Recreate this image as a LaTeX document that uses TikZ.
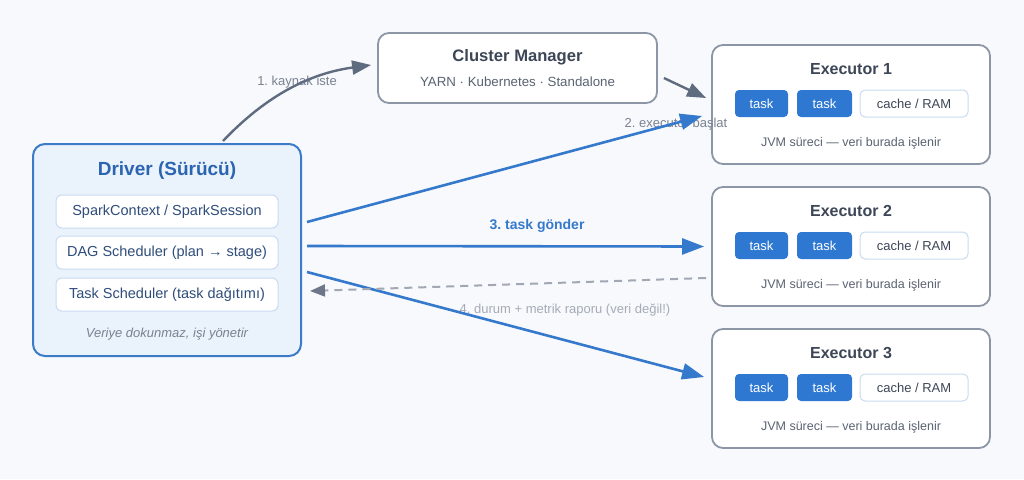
\documentclass[tikz,border=0pt]{standalone}
\usepackage{fontspec}
\setmainfont{Liberation Sans}
\usetikzlibrary{arrows.meta}
\definecolor{bgc}{HTML}{F7F9FC}
\definecolor{drvfill}{HTML}{EAF2FC}
\definecolor{drvline}{HTML}{3B7BC8}
\definecolor{drvtitle}{HTML}{2B64B0}
\definecolor{innerline}{HTML}{C9DBF0}
\definecolor{innertext}{HTML}{2E4D7A}
\definecolor{grayline}{HTML}{8C96A6}
\definecolor{darktext}{HTML}{3D4656}
\definecolor{midtext}{HTML}{5A6372}
\definecolor{taskblue}{HTML}{2F78D2}
\definecolor{arrowblue}{HTML}{3579CC}
\definecolor{arrowgray}{HTML}{5F6B7E}
\definecolor{dashgray}{HTML}{A0A8B4}
\definecolor{dashtip}{HTML}{6E7789}
\definecolor{lbltext}{HTML}{7A8291}
\definecolor{lbllight}{HTML}{A5ACB8}
\tikzset{
  drvbox/.style={draw=drvline,line width=2pt,fill=drvfill,rounded corners=12pt,minimum width=268pt,minimum height=212pt,inner sep=0pt},
  innerbox/.style={draw=innerline,line width=1pt,fill=white,rounded corners=6pt,minimum width=222pt,minimum height=33pt,inner sep=0pt,font=\fontsize{14.5}{16}\selectfont,text=innertext},
  graybox/.style={draw=grayline,line width=1.8pt,fill=white,rounded corners=11pt,inner sep=0pt},
  taskbox/.style={fill=taskblue,rounded corners=4pt,minimum height=27pt,inner sep=0pt,text=white,font=\fontsize{13}{15}\selectfont},
  cachebox/.style={draw=innerline,line width=1pt,fill=white,rounded corners=5pt,minimum width=108pt,minimum height=27pt,inner sep=0pt,text=darktext,font=\fontsize{13}{15}\selectfont},
  titletext/.style={font=\bfseries\fontsize{16}{18}\selectfont,text=darktext,inner sep=0pt},
  subtext/.style={font=\fontsize{13.3}{15}\selectfont,text=midtext,inner sep=0pt},
  lbl/.style={font=\fontsize{13}{15}\selectfont,text=lbltext,inner sep=0pt},
  bluearrow/.style={draw=arrowblue,line width=2.6pt,-{Triangle[length=22pt,width=16pt]}},
  grayarrow/.style={draw=arrowgray,line width=2.4pt,-{Triangle[length=19pt,width=14pt]}},
  dasharrow/.style={draw=dashgray,line width=2pt,dash pattern=on 8pt off 6pt,-{Triangle[length=15pt,width=12pt,color=dashtip]}},
}
\begin{document}
\frenchspacing
\begin{tikzpicture}[x=1pt,y=-1pt]
\useasboundingbox (0,0) rectangle (1024,479);
\fill[bgc] (0,0) rectangle (1024,479);

% Driver
\node[drvbox] (driver) at (167,250) {};
\node[font=\bfseries\fontsize{19}{21}\selectfont,text=drvtitle,inner sep=0pt] (drvtitle) at (167,171) {Driver (Sürücü)};
\node[innerbox] (sc) at (167,211.5) {SparkContext / SparkSession};
\node[innerbox] (dag) at (167,252.5) {DAG Scheduler (plan → stage)};
\node[innerbox] (ts) at (167,294.5) {Task Scheduler (task dağıtımı)};
\node[font=\itshape\fontsize{13}{15}\selectfont,text=lbltext,inner sep=0pt] (drvnote) at (167,334) {Veriye dokunmaz, işi yönetir};

% Cluster Manager
\node[graybox,minimum width=279pt,minimum height=70pt] (cm) at (517.5,68) {};
\node[titletext,font=\bfseries\fontsize{16.6}{18}\selectfont] (cmtitle) at (517.5,57) {Cluster Manager};
\node[subtext] (cmsub) at (517.5,82) {YARN · Kubernetes · Standalone};

% Executors
\foreach \i/\t in {1/45,2/187,3/329}{
  \node[graybox,minimum width=278pt,minimum height=119pt] (ex\i) at (851,\t+59.5) {};
  \node[titletext] (ex\i title) at (851,\t+24) {Executor \i};
  \node[taskbox,minimum width=53pt] (ex\i t1) at (761.5,\t+58.5) {task};
  \node[taskbox,minimum width=55pt] (ex\i t2) at (824.5,\t+58.5) {task};
  \node[cachebox] (ex\i c) at (914,\t+58.5) {cache / RAM};
  \node[font=\fontsize{12.5}{14}\selectfont,text=midtext,inner sep=0pt] (ex\i jvm) at (851,\t+98) {JVM süreci — veri burada işlenir};
}

% Labels (under arrows)
\node[lbl] (l1) at (297,82) {1. kaynak iste};
\node[lbl] (l2) at (676,124) {2. executor başlat};
\node[font=\bfseries\fontsize{14}{16}\selectfont,text=arrowblue,inner sep=0pt] (l3) at (537,226) {3. task gönder};
\node[lbl,text=lbllight] (l4) at (565,310) {4. durum + metrik raporu (veri değil!)};

% Arrows
\draw[grayarrow] ([xshift=56pt,yshift=2pt]driver.north) .. controls (262,100) and (305,74) .. ([xshift=-6pt,yshift=3pt]cm.west);
\draw[grayarrow] ([xshift=6pt,yshift=-10pt]cm.east) -- ([xshift=-5pt,yshift=6.5pt]ex1.west);
\draw[bluearrow] ([xshift=5pt,yshift=28pt]driver.east) -- ([xshift=-9pt,yshift=-11.5pt]ex1.west);
\draw[bluearrow] ([xshift=5pt,yshift=4pt]driver.east) -- ([xshift=-7pt,yshift=0pt]ex2.west);
\draw[bluearrow] ([xshift=5pt,yshift=-22pt]driver.east) -- ([xshift=-7pt,yshift=11.5pt]ex3.west);
\draw[dasharrow] ([xshift=-5pt,yshift=-31.5pt]ex2.west) -- ([xshift=8pt,yshift=-41pt]driver.east);
\end{tikzpicture}
\end{document}
